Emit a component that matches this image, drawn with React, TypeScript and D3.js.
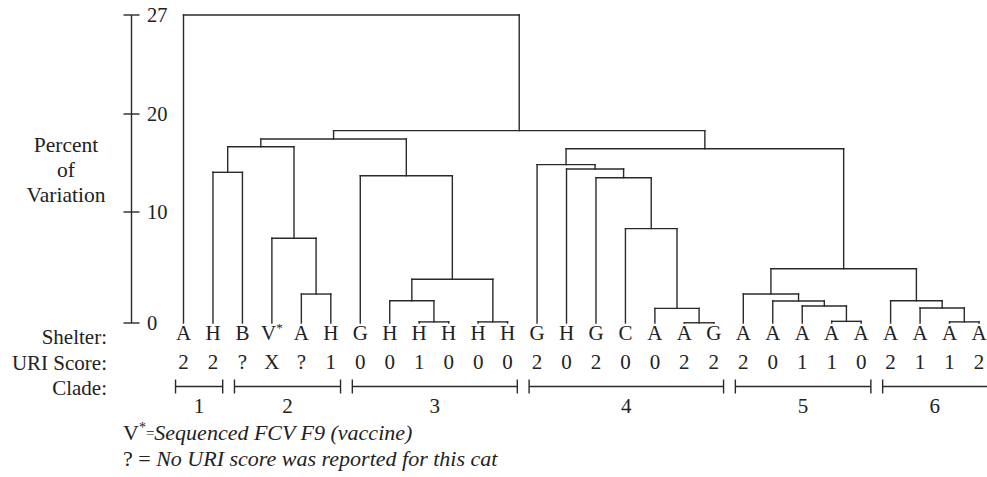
import React from "react";
import * as d3 from "d3";

const LEAF_LABELS = ["A","H","B","V","A","H","G","H","H","H","H","H","G","H","G","C","A","A","G","A","A","A","A","A","A","A","A","A"];
const URI_SCORES = ["2","2","?","X","?","1","0","0","1","0","0","0","2","0","2","0","0","2","2","2","0","1","1","0","2","1","1","2"];

// Linkage: [child A, child B, height]; indices >= 28 refer to earlier merges (28 + k)
const MERGES: [number, number, number][] = [
  [8, 9, 0.1],
  [10, 11, 0.1],
  [7, 28, 2.0],
  [30, 29, 3.94],
  [6, 31, 13.7],
  [4, 5, 2.61],
  [3, 33, 7.63],
  [1, 2, 14.05],
  [35, 34, 16.66],
  [36, 32, 17.45],
  [17, 18, 0.02],
  [16, 38, 1.32],
  [15, 39, 8.5],
  [14, 40, 13.5],
  [13, 41, 14.39],
  [12, 42, 14.83],
  [22, 23, 0.15],
  [21, 44, 1.53],
  [20, 45, 1.98],
  [19, 46, 2.61],
  [26, 27, 0.1],
  [25, 48, 1.35],
  [24, 49, 2.0],
  [47, 50, 4.89],
  [43, 51, 16.46],
  [37, 52, 18.3],
  [0, 53, 27],
];

const Y_TICKS = [0, 10, 20, 27];
const CLADE_NAMES = ["1", "2", "3", "4", "5", "6"];
const CLADE_START = [0, 2, 6, 12, 19, 24];
const CLADE_END = [1, 5, 11, 18, 23, 27];

const FONT = "'Liberation Serif', 'Times New Roman', Times, serif";
const INK = "#222";
const LINE = "#2a2a2a";

export default function App() {
  const W = 987, H = 477;
  const nLeaves = LEAF_LABELS.length;
  const x = d3.scaleLinear().domain([0, nLeaves - 1]).range([183.5, 979]);
  const y = d3.scaleLinear().domain([0, 10, 20, 27]).range([323, 212, 114, 15]);

  const nodeX: number[] = [];
  const nodeH: number[] = [];
  for (let i = 0; i < nLeaves; i++) { nodeX.push(x(i)); nodeH.push(0); }
  MERGES.forEach(([a, b, h]) => {
    nodeX.push((nodeX[a] + nodeX[b]) / 2);
    nodeH.push(h);
  });

  const segs: { x1: number; y1: number; x2: number; y2: number }[] = [];
  MERGES.forEach(([a, b, h]) => {
    const yy = y(h);
    segs.push({ x1: nodeX[a], y1: yy, x2: nodeX[b], y2: yy });
    segs.push({ x1: nodeX[a], y1: yy, x2: nodeX[a], y2: y(nodeH[a]) });
    segs.push({ x1: nodeX[b], y1: yy, x2: nodeX[b], y2: y(nodeH[b]) });
  });

  const axisX = 131.5;
  const fs = 21;

  return (
    <svg width={W} height={H} style={{ position: "absolute", left: 0, top: 0, background: "#fff" }}
      fontFamily={FONT} fill={INK}>
      {/* axis */}
      <line x1={axisX} x2={axisX} y1={y(27)} y2={y(0)} stroke={LINE} strokeWidth={1.4} />
      {Y_TICKS.map((t) => (
        <g key={t}>
          <line x1={axisX - 8} x2={axisX + 8} y1={y(t)} y2={y(t)} stroke={LINE} strokeWidth={1.4} />
          <text x={147} y={y(t) + 7} fontSize={20.5}>{t}</text>
        </g>
      ))}
      <text x={66} y={152} fontSize={21.5} textAnchor="middle">Percent</text>
      <text x={66} y={177} fontSize={21.5} textAnchor="middle">of</text>
      <text x={66} y={202} fontSize={21.5} textAnchor="middle">Variation</text>

      {/* dendrogram */}
      {segs.map((s, i) => (
        <line key={i} x1={s.x1} y1={s.y1} x2={s.x2} y2={s.y2} stroke={LINE} strokeWidth={1.4} strokeLinecap="square" />
      ))}

      {/* row labels */}
      <text x={107} y={344} fontSize={fs} textAnchor="end">Shelter:</text>
      <text x={107} y={370} fontSize={fs} textAnchor="end">URI Score:</text>
      <text x={107} y={395} fontSize={fs} textAnchor="end">Clade:</text>

      {LEAF_LABELS.map((l, i) => (
        <text key={"l" + i} x={x(i)} y={340} fontSize={fs} textAnchor="middle">
          {l}
          {l === "V" && i === 3 ? <tspan fontSize={13} dy={-8}>*</tspan> : null}
        </text>
      ))}
      {URI_SCORES.map((s, i) => (
        <text key={"u" + i} x={x(i)} y={369} fontSize={fs} textAnchor="middle">{s}</text>
      ))}

      {CLADE_NAMES.map((c, i) => {
        const x1 = x(CLADE_START[i] - 0.27);
        const x2 = x(CLADE_END[i] + 0.33);
        const yy = 386.5;
        return (
          <g key={"c" + i}>
            <line x1={x1} x2={x2} y1={yy} y2={yy} stroke={LINE} strokeWidth={1.4} />
            <line x1={x1} x2={x1} y1={yy - 7} y2={yy + 7} stroke={LINE} strokeWidth={1.4} />
            <line x1={x2} x2={x2} y1={yy - 7} y2={yy + 7} stroke={LINE} strokeWidth={1.4} />
            <text x={(x1 + Math.min(x2, W)) / 2} y={413} fontSize={fs} textAnchor="middle">{c}</text>
          </g>
        );
      })}

      {/* footnotes */}
      <text x={123} y={440} fontSize={22}>
        V<tspan fontSize={14} dy={-8}>*</tspan><tspan fontSize={15} dy={6}>=</tspan>
        <tspan dy={2} fontStyle="italic">Sequenced FCV F9 (vaccine)</tspan>
      </text>
      <text x={123} y={466} fontSize={22}>
        ? = <tspan fontStyle="italic">No URI score was reported for this cat</tspan>
      </text>
    </svg>
  );
}
